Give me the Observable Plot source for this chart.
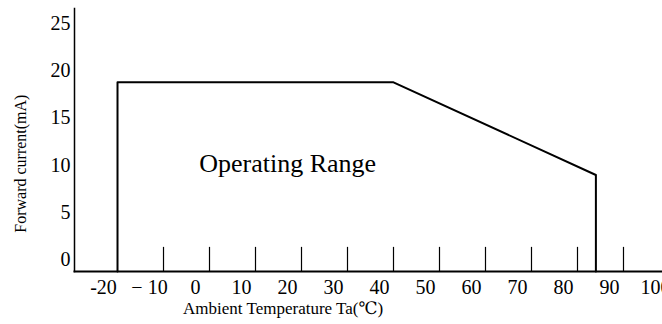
<!DOCTYPE html>
<html><head><meta charset="utf-8">
<script src="https://cdn.jsdelivr.net/npm/d3@7"></script>
<script src="https://cdn.jsdelivr.net/npm/@observablehq/plot@0.6"></script>
<style>html,body{margin:0;padding:0;background:#fff;overflow:hidden}</style>
</head><body><div id="chart"></div>
<script>
// Operating-range boundary (ambient temperature °C, forward current mA)
const temps = [-20, -20, 40, 84, 84];
const currents = [0, 20, 20, 10.2, 0];
// inward tick marks on the temperature axis
const tickTemps = [-10, 0, 10, 20, 30, 40, 50, 60, 70, 80, 90];
// tick labels
const xLabelValues = [-20, -10, 0, 10, 20, 30, 40, 50, 60, 70, 80, 90, 100];
const xLabelTexts = ["-20", "− 10", "0", "10", "20", "30", "40", "50", "60", "70", "80", "90", "100"];
const yLabelValues = [0, 5, 10, 15, 20, 25];
const annotations = [{text: "Operating Range", temp: 17, current: 11.4}];
const xTitle = [{text: "Ambient Temperature Ta(℃)", temp: 16}];
const yTitle = [{text: "Forward current(mA)", current: 11.4}];

const boundary = temps.map((t, i) => ({temp: t, current: currents[i]}));
const xLabelMap = new Map(xLabelValues.map((v, i) => [v, xLabelTexts[i]]));

const chart = Plot.plot({
  width: 662,
  height: 324,
  marginLeft: 74,
  marginRight: 0,
  marginTop: 8,
  marginBottom: 53,
  style: {fontFamily: "'Liberation Serif', 'DejaVu Serif', serif", background: "white", color: "black", overflow: "hidden"},
  x: {domain: [-29.35, 98.48]},
  y: {domain: [0, 27.8]},
  marks: [
    Plot.frame({anchor: "left", strokeWidth: 1.5}),
    Plot.frame({anchor: "bottom", strokeWidth: 2}),
    Plot.ruleX(tickTemps, {y1: 0, y2: 2.55, strokeWidth: 1.2}),
    Plot.line(boundary, {x: "temp", y: "current", strokeWidth: 2, stroke: "black"}),
    Plot.axisX(xLabelValues, {tickSize: 0, tickPadding: 8, dx: -14, fontSize: 20, label: null, tickFormat: d => xLabelMap.get(d)}),
    Plot.axisY(yLabelValues, {tickSize: 0, tickPadding: 4, dy: -11.5, fontSize: 20, label: null}),
    Plot.text(annotations, {x: "temp", y: "current", text: "text", fontSize: 26}),
    Plot.text(xTitle, {x: "temp", text: "text", frameAnchor: "bottom", dy: 42, fontSize: 17, textAnchor: "middle"}),
    Plot.text(yTitle, {y: "current", text: "text", frameAnchor: "left", dx: -54, rotate: -90, fontSize: 16, textAnchor: "middle"})
  ]
});
document.getElementById("chart").appendChild(chart);
</script>
</body></html>
